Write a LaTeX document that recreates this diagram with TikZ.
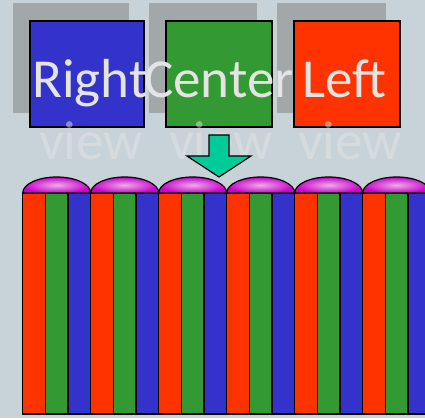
\documentclass[tikz,border=0pt]{standalone}
\usepackage{fontspec}
\setmainfont{Carlito}
\usetikzlibrary{calc}
\definecolor{bgc}{HTML}{C8D3D9}
\definecolor{shadowc}{HTML}{A2A7AA}
\definecolor{bluec}{HTML}{3333CC}
\definecolor{greenc}{HTML}{339933}
\definecolor{redc}{HTML}{FF3300}
\definecolor{arrowc}{HTML}{00CC99}
\definecolor{lensout}{HTML}{CC00CC}
\definecolor{lensin}{HTML}{E8B0E4}
\definecolor{txtc}{HTML}{E4E4E4}
\begin{document}
\begin{tikzpicture}[x=1pt,y=1pt,
  shadowbox/.style={fill=shadowc,draw=none,inner sep=0pt,outer sep=0pt},
  viewbox/.style={draw=black,line width=1.2pt,inner sep=0pt,outer sep=0pt,minimum width=114pt,minimum height=106pt},
  bigtxt/.style={anchor=base,inner sep=0pt,text=txtc,font=\fontsize{55}{62}\selectfont},
  smalltxt/.style={anchor=base,inner sep=0pt,text=txtc,text opacity=0.5,font=\fontsize{55}{62}\selectfont},
  strip/.style={draw=black,line width=1.2pt},
  lens/.style={draw=black,line width=1.2pt,inner color=lensin,outer color=lensout}]
\fill[bgc] (0,0) rectangle (425,418);
\useasboundingbox (0,0) rectangle (425,418);
% shadows
\node[shadowbox,minimum width=116pt,minimum height=110pt] (sh1) at (71,360) {};
\node[shadowbox,minimum width=108pt,minimum height=110pt] (sh2) at (203,360) {};
\node[shadowbox,minimum width=109pt,minimum height=110pt] (sh3) at (331.5,360) {};
% boxes
\node[viewbox,fill=bluec] (rbox) at (87,344) {};
\node[viewbox,fill=greenc,minimum width=106pt] (cbox) at (219,344) {};
\node[viewbox,fill=redc,minimum width=106pt] (lbox) at (347,344) {};
% labels
\node[bigtxt] (rt) at (90,320) {Right};
\node[bigtxt] (ct) at (219,320) {Center};
\node[bigtxt] (lt) at (344,320) {Left};
\node[smalltxt] (rv) at (91,258) {view};
\node[smalltxt] (cv) at (221,258) {view};
\node[smalltxt] (lv) at (350,258) {view};
% arrow
\coordinate (atop) at (219,283);
\coordinate (atip) at (219,241);
\draw[fill=arrowc,line width=1.2pt,line join=miter]
  ($(atop)+(-10,0)$) -- ($(atop)+(10,0)$) -- (229,262) -- (251,262) -- (atip) -- (187,262) -- (209,262) -- cycle;
% strips
\begin{scope}
\clip (0,0) rectangle (425,418);
\foreach \i in {0,...,5}{
  \pgfmathsetmacro{\xa}{22.7+68*\i}
  \draw[strip,fill=redc] (\xa,4) rectangle ++(22.67,221);
  \draw[strip,fill=greenc] (\xa+22.67,4) rectangle ++(22.67,221);
  \draw[strip,fill=bluec] (\xa+45.33,4) rectangle ++(22.67,221);
  \draw[lens] (\xa,225) arc[start angle=180,end angle=0,x radius=34,y radius=16] -- cycle;
}
\end{scope}
\end{tikzpicture}
\end{document}
